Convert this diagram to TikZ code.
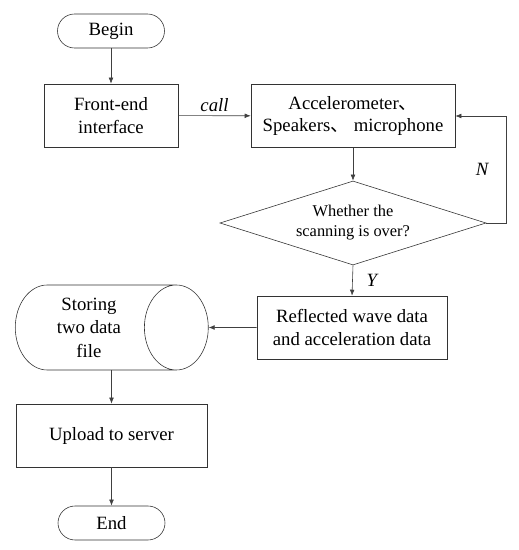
\documentclass[tikz,border=0pt]{standalone}
\usepackage{fontspec}
\setmainfont{Liberation Serif}
\newfontfamily\cjk{Noto Sans CJK SC}
\usepackage{tikz}
\usetikzlibrary{shapes.geometric, arrows.meta, positioning, calc}

\begin{document}
\begin{tikzpicture}[
            paso/.style={rectangle, draw=black!80, line width=0.5pt, align=center, font=\fontsize{16}{19.5}\selectfont, minimum height=1.89cm},
            term/.style={rectangle, rounded corners=0.51cm, draw=black!80, line width=0.5pt, font=\fontsize{16}{19}\selectfont, minimum width=3.21cm, minimum height=1.02cm},
            decide/.style={diamond, draw=black!80, line width=0.5pt, align=center, aspect=3.17, inner sep=0pt, font=\fontsize{14}{17}\selectfont, minimum width=7.98cm, minimum height=2.52cm},
            datos/.style={cylinder, draw=black!80, line width=0.5pt, align=center, aspect=0.95, font=\fontsize{16}{20}\selectfont, minimum width=2.55cm, minimum height=5.79cm, shape border rotate=0},
            flecha/.style={line width=0.5pt, draw=black!75, -{Latex[length=1.8mm, width=1.4mm]}},
            etiq/.style={font=\fontsize{16}{18}\selectfont\itshape}]

            \useasboundingbox (0,0) rectangle (15.57,16.5);

            \node[term] (inicio) at (3.33, 15.57) {Begin};
            \node[paso, minimum width=4.02cm] (front) at (3.33, 13.035) {Front-end\\interface};
            \node[paso, minimum width=6.12cm] (sensor) at (10.59, 13.02) {Accelerometer{\cjk 、}\\Speakers{\cjk 、} microphone};
            \node[decide] (fin) at (10.59, 9.81) {Whether the\\scanning is over?};
            \node[paso, minimum width=5.7cm] (onda) at (10.56, 6.675) {Reflected wave data\\and acceleration data};
            \node[datos, anchor=west] (guardar) at (0.45, 6.675) {Storing\\two data\\file};
            \node[paso, minimum width=5.73cm] (subir) at (3.345, 3.435) {Upload to server};
            \node[term] (final) at (3.345, 0.81) {End};

            \coordinate (lazo) at (15.18, 0);

            \draw[flecha] (inicio) -- (front);
            \draw[flecha] (front) -- node[above, etiq] {call} (sensor);
            \draw[flecha] (sensor) -- (fin);
            \draw[flecha] (fin.east) -| (lazo |- fin.east) -- node[left, etiq, xshift=-0.4cm] {N} (lazo |- sensor.east) -- (sensor.east);
            \draw[flecha] (fin.south) -- node[right, etiq, xshift=0.3cm] {Y} (onda.north);
            \draw[flecha] (onda.west) -- (guardar.east);
            \draw[flecha] (guardar.south -| subir.north) -- (subir.north);
            \draw[flecha] (subir) -- (final);
\end{tikzpicture}
\end{document}
